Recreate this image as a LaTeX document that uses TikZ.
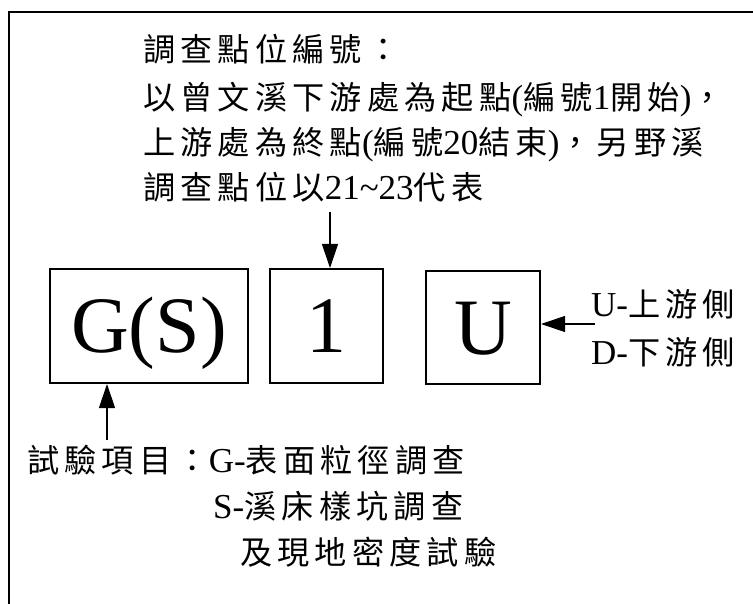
\documentclass[tikz,border=0pt]{standalone}
\usepackage{fontspec}
\setmainfont{Liberation Serif}
\newfontfamily\cjkfont{Noto Sans CJK TC}[Scale=0.92,LetterSpace=16]
\usetikzlibrary{arrows.meta}
\newcommand{\C}[1]{{\cjkfont #1}}
\begin{document}
\begin{tikzpicture}[x=1pt,y=-1pt,
  txt/.style={anchor=base west,inner sep=0pt,font=\fontsize{35}{40}\selectfont},
  codebox/.style={draw,line width=2pt,inner sep=0pt,text height=53pt,text depth=0pt,font=\fontsize{80}{80}\selectfont},
  pointer/.style={line width=1.2pt,-{Triangle[length=24pt,width=16pt]}}]
\useasboundingbox (0,0) rectangle (753,604);
\begin{scope}
\clip (0,0) rectangle (753,604);
\draw[line width=2pt] (9,12) rectangle (770,620);
\end{scope}
\node[txt] (t1) at (143,62) {\C{調查點位編號：}};
\node[txt] (t2) at (143,110) {\C{以曾文溪下游處為起點}(\C{編號}1\C{開始})\C{，}};
\node[txt] (t3) at (143,155) {\C{上游處為終點}(\C{編號}20\C{結束})\C{，另野溪}};
\node[txt] (t4) at (143,200) {\C{調查點位以}21\textasciitilde23\C{代表}};
\node[codebox,minimum width=198pt,minimum height=114pt] (gs) at (149,326) {G(S)};
\node[codebox,minimum width=113pt,minimum height=114pt] (num) at (326.5,326) {1};
\node[codebox,minimum width=114pt,minimum height=113pt] (side) at (483,327.5) {U};
\node[txt] (su) at (591,317) {U-\C{上游側}};
\node[txt] (sd) at (591,364) {D-\C{下游側}};
\node[txt] (b1) at (27,472) {\C{試驗項目：}G-\C{表面粒徑調查}};
\node[txt] (b2) at (213,518) {S-\C{溪床樣坑調查}};
\node[txt] (b3) at (240,564) {\C{及現地密度試驗}};
\coordinate (p1) at (330,212);
\draw[pointer] (p1) -- (p1 |- num.north);
\coordinate (p2) at (107,440);
\draw[pointer] (p2) -- (p2 |- gs.south);
\coordinate (p3) at (595,324);
\draw[pointer] (p3) -- (p3 -| side.east);
\end{tikzpicture}
\end{document}
